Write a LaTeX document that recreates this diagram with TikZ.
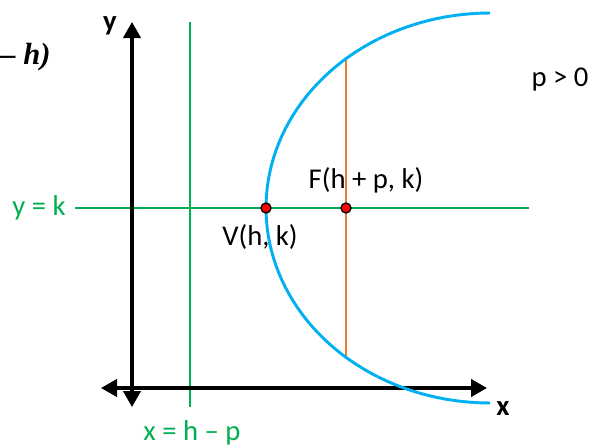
\documentclass[tikz,border=0pt]{standalone}
\usepackage{fontspec}
\setmainfont{Carlito}
\newfontfamily\eqfont{Liberation Serif}
\usetikzlibrary{arrows.meta,positioning}
\definecolor{axgreen}{RGB}{0,176,80}
\definecolor{parblue}{RGB}{0,176,240}
\definecolor{lrorange}{RGB}{237,125,49}

\begin{document}
\begin{tikzpicture}[x=0.75pt,y=-0.75pt,>={Triangle[length=12pt,width=13pt]}]
  \tikzstyle{axis}=[line width=2.3pt,black]
  \tikzstyle{guide}=[line width=2pt,draw=axgreen]
  \tikzstyle{pt}=[circle,draw=black,fill=red,line width=1pt,inner sep=0pt,minimum size=7.5pt]
  \tikzstyle{lbl}=[font=\fontsize{21.5}{25}\selectfont,inner sep=0pt]
  \useasboundingbox (0,0) rectangle (592,447);
  % axes and guide lines
  \coordinate (ytop) at (132,22);
  \coordinate (ybot) at (132,407);
  \coordinate (xl) at (101,388);
  \coordinate (xr) at (487,388);
  \coordinate (dtop) at (190,22);
  \coordinate (dbot) at (190,407);
  \coordinate (kl) at (75,208);
  \coordinate (kr) at (529,208);
  \coordinate (lrtop) at (346,58);
  \coordinate (lrbot) at (346,357);
  \draw[guide] (dtop) -- (dbot);
  \draw[guide] (kl) -- (kr);
  \draw[axis,<->] (ytop) -- (ybot);
  \draw[axis,<->] (xl) -- (xr);
  \draw[line width=1.5pt,lrorange] (lrtop) -- (lrbot);
  % the curve
  \draw[line width=2.2pt,parblue] plot[domain=90:270,samples=80] ({490+224*cos(\x)},{208-195*sin(\x)});
  \node[pt] (v) at (266,208) {};
  \node[pt] (f) at (346,208) {};
  % labels
  \node[lbl,font=\fontsize{21.5}{25}\selectfont\bfseries] (ylab) at (110,26) {y};
  \node[lbl,font=\fontsize{21.5}{25}\selectfont\bfseries] (xlab) at (503,409) {x};
  \node[lbl] (pos) at (560,80) {p > 0};
  \node[lbl] (flab) at (366,180) {F(h + p, k)};
  \node[lbl] (vlab) at (260,237) {V(h, k)};
  \node[lbl,text=axgreen] (klab) at (39,208) {y = k};
  \node[lbl,text=axgreen] (dlab) at (192,433) {x = h – p};
  \node[lbl,font=\fontsize{23}{26}\selectfont\eqfont\bfseries\itshape,anchor=west] (eq) at (0,57) {– h)};
\end{tikzpicture}
\end{document}
